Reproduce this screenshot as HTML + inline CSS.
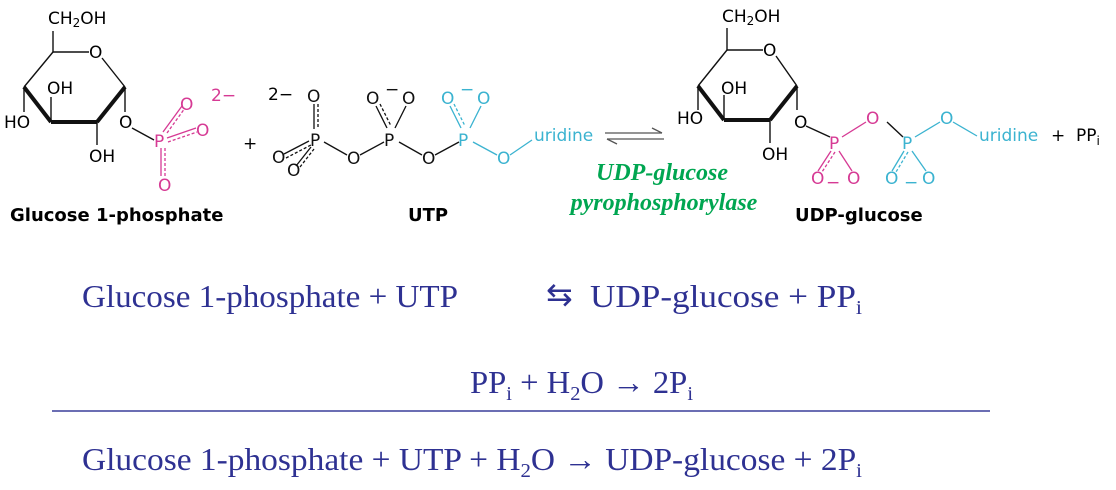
<!DOCTYPE html>
<html><head><meta charset="utf-8"><style>
html,body{margin:0;padding:0;background:#fff;}
svg{display:block;}
.s{font-family:"DejaVu Sans","Liberation Sans",sans-serif;font-size:17px;}
.b{font-family:"DejaVu Sans","Liberation Sans",sans-serif;font-size:18px;font-weight:bold;}
.t{font-family:"Liberation Serif",serif;font-size:32px;fill:#2e3192;}
.g{font-family:"Liberation Serif",serif;font-size:24px;font-weight:bold;font-style:italic;fill:#00a651;}
</style></head><body>
<svg width="1116" height="490" viewBox="0 0 1116 490" xmlns="http://www.w3.org/2000/svg">
<!-- Glucose 1-phosphate -->
<g stroke="#111" stroke-width="1.4" fill="none">
<line x1="53" y1="31" x2="53" y2="52"/>
<line x1="53" y1="52" x2="89" y2="52"/>
<line x1="102" y1="58" x2="125" y2="87"/>
<line x1="53" y1="52" x2="24" y2="87"/>
<line x1="24" y1="87" x2="51" y2="122" stroke-width="4"/>
<line x1="51" y1="122" x2="97" y2="122" stroke-width="4"/>
<line x1="97" y1="122" x2="125" y2="87" stroke-width="4"/>
<line x1="24" y1="87" x2="24" y2="112"/>
<line x1="51" y1="122" x2="51" y2="97"/>
<line x1="97" y1="122" x2="97" y2="145"/>
<line x1="125" y1="87" x2="125" y2="112"/>
<line x1="132" y1="128" x2="154" y2="140"/>
</g>
<text class="s" x="48" y="24">CH<tspan font-size="12" dy="3">2</tspan><tspan dy="-3">OH</tspan></text>
<text class="s" x="89" y="58">O</text>
<text class="s" x="47" y="94">OH</text>
<text class="s" x="4" y="128">HO</text>
<text class="s" x="89" y="162">OH</text>
<text class="s" x="119" y="128">O</text>
<g fill="#d63a94"><text class="s" x="154" y="147">P</text>
<text class="s" x="180" y="110">O</text><text class="s" x="196" y="136">O</text><text class="s" x="158" y="191">O</text>
<text class="s" x="211" y="101" font-size="14">2−</text></g>
<g stroke="#d63a94" stroke-width="1.3">
<line x1="163" y1="132" x2="182" y2="106"/><line x1="167" y1="133" x2="185" y2="108" stroke-dasharray="3,2"/>
<line x1="167" y1="138" x2="196" y2="128"/><line x1="168" y1="142" x2="197" y2="132" stroke-dasharray="3,2"/>
<line x1="161" y1="148" x2="161" y2="176"/><line x1="165" y1="148" x2="165" y2="176" stroke-dasharray="3,2"/>
</g>
<text class="s" x="243" y="149">+</text>
<text class="b" x="10" y="221">Glucose 1-phosphate</text>
<!-- UTP -->
<text class="s" x="268" y="100" font-size="14">2−</text>
<g fill="#111">
<text class="s" x="307" y="102">O</text><text class="s" x="310" y="146">P</text>
<text class="s" x="272" y="163">O</text><text class="s" x="287" y="176">O</text>
<text class="s" x="347" y="164">O</text><text class="s" x="384" y="146">P</text>
<text class="s" x="366" y="104">O</text><text class="s" x="402" y="104">O</text>
<text class="s" x="385" y="95" font-size="14">−</text>
<text class="s" x="422" y="164">O</text>
</g>
<g stroke="#111" stroke-width="1.3">
<line x1="314" y1="104" x2="314" y2="129"/><line x1="318" y1="104" x2="318" y2="129" stroke-dasharray="3,2"/>
<line x1="284" y1="154" x2="309" y2="141"/><line x1="286" y1="158" x2="311" y2="145" stroke-dasharray="3,2"/>
<line x1="296" y1="166" x2="311" y2="147"/><line x1="300" y1="167" x2="314" y2="149" stroke-dasharray="3,2"/>
<line x1="324" y1="142" x2="347" y2="155"/><line x1="360" y1="155" x2="384" y2="142"/>
<line x1="376" y1="106" x2="387" y2="128"/><line x1="380" y1="104" x2="391" y2="126" stroke-dasharray="3,2"/>
<line x1="406" y1="106" x2="395" y2="128"/>
<line x1="399" y1="142" x2="422" y2="155"/><line x1="435" y1="155" x2="459" y2="142"/>
</g>
<g fill="#3bb3d0">
<text class="s" x="458" y="146">P</text>
<text class="s" x="441" y="104">O</text><text class="s" x="477" y="104">O</text>
<text class="s" x="460" y="95" font-size="14">−</text>
<text class="s" x="497" y="164">O</text>
<text class="s" x="534" y="141">uridine</text>
</g>
<g stroke="#3bb3d0" stroke-width="1.3">
<line x1="450" y1="106" x2="461" y2="128"/><line x1="454" y1="104" x2="465" y2="126" stroke-dasharray="3,2"/>
<line x1="481" y1="106" x2="470" y2="128"/>
<line x1="473" y1="142" x2="497" y2="155"/><line x1="510" y1="155" x2="532" y2="140"/>
</g>
<text class="b" x="408" y="221">UTP</text>
<!-- equilibrium arrows -->
<g stroke="#555" stroke-width="1.3" fill="none">
<line x1="605" y1="133" x2="662" y2="133"/><polyline points="652,128 662,133"/>
<line x1="607" y1="139" x2="664" y2="139"/><polyline points="607,139 617,144"/>
</g>
<text class="g" x="662" y="180" text-anchor="middle">UDP-glucose</text>
<text class="g" x="664" y="210" text-anchor="middle">pyrophosphorylase</text>
<!-- UDP-glucose -->
<g stroke="#111" stroke-width="1.4" fill="none">
<line x1="727" y1="28" x2="727" y2="50"/>
<line x1="727" y1="50" x2="763" y2="50"/>
<line x1="776" y1="56" x2="797" y2="86"/>
<line x1="727" y1="50" x2="698" y2="86"/>
<line x1="698" y1="86" x2="724" y2="120" stroke-width="4"/>
<line x1="724" y1="120" x2="770" y2="120" stroke-width="4"/>
<line x1="770" y1="120" x2="797" y2="86" stroke-width="4"/>
<line x1="698" y1="86" x2="698" y2="110"/>
<line x1="724" y1="120" x2="724" y2="95"/>
<line x1="770" y1="120" x2="770" y2="143"/>
<line x1="797" y1="86" x2="797" y2="110"/>
<line x1="806" y1="126" x2="830" y2="137"/>
<line x1="887" y1="122" x2="903" y2="137"/>
</g>
<text class="s" x="722" y="22">CH<tspan font-size="12" dy="3">2</tspan><tspan dy="-3">OH</tspan></text>
<text class="s" x="763" y="56">O</text>
<text class="s" x="721" y="94">OH</text>
<text class="s" x="677" y="124">HO</text>
<text class="s" x="762" y="160">OH</text>
<text class="s" x="794" y="128">O</text>
<g fill="#d63a94">
<text class="s" x="829" y="149">P</text><text class="s" x="866" y="124">O</text>
<text class="s" x="811" y="184">O</text><text class="s" x="847" y="184">O</text>
<text class="s" x="826" y="188" font-size="14">−</text></g>
<g stroke="#d63a94" stroke-width="1.3">
<line x1="842" y1="137" x2="866" y2="122"/>
<line x1="831" y1="151" x2="818" y2="171"/><line x1="835" y1="152" x2="822" y2="172" stroke-dasharray="3,2"/>
<line x1="839" y1="151" x2="852" y2="171"/>
</g>
<g fill="#3bb3d0">
<text class="s" x="902" y="149">P</text><text class="s" x="940" y="124">O</text>
<text class="s" x="885" y="184">O</text><text class="s" x="922" y="184">O</text>
<text class="s" x="904" y="188" font-size="14">−</text>
<text class="s" x="979" y="141">uridine</text></g>
<g stroke="#3bb3d0" stroke-width="1.3">
<line x1="915" y1="137" x2="940" y2="122"/><line x1="953" y1="122" x2="977" y2="136"/>
<line x1="904" y1="151" x2="892" y2="171"/><line x1="908" y1="152" x2="896" y2="172" stroke-dasharray="3,2"/>
<line x1="912" y1="151" x2="926" y2="171"/>
</g>
<text class="s" x="1051" y="141">+</text>
<text class="s" x="1076" y="141">PP<tspan font-size="12" dy="4">i</tspan></text>
<text class="b" x="795" y="221">UDP-glucose</text>
<!-- equations -->
<text class="t" x="82" y="307" textLength="376" lengthAdjust="spacingAndGlyphs">Glucose 1-phosphate  + UTP</text>
<text class="t" x="546" y="305" font-size="24">⇆</text>
<text class="t" x="590" y="307" textLength="272" lengthAdjust="spacingAndGlyphs">UDP-glucose +  PP<tspan font-size="20" dy="7">i</tspan></text>
<text class="t" x="470" y="393" textLength="223" lengthAdjust="spacingAndGlyphs">PP<tspan font-size="20" dy="7">i</tspan><tspan dy="-7"> + H</tspan><tspan font-size="20" dy="7">2</tspan><tspan dy="-7">O → 2P</tspan><tspan font-size="20" dy="7">i</tspan></text>
<line x1="52" y1="411" x2="990" y2="411" stroke="#3a3f9a" stroke-width="1.5"/>
<text class="t" x="82" y="470" textLength="780" lengthAdjust="spacingAndGlyphs">Glucose 1-phosphate + UTP + H<tspan font-size="20" dy="7">2</tspan><tspan dy="-7">O   → UDP-glucose +  2P</tspan><tspan font-size="20" dy="7">i</tspan></text>
</svg>
</body></html>
